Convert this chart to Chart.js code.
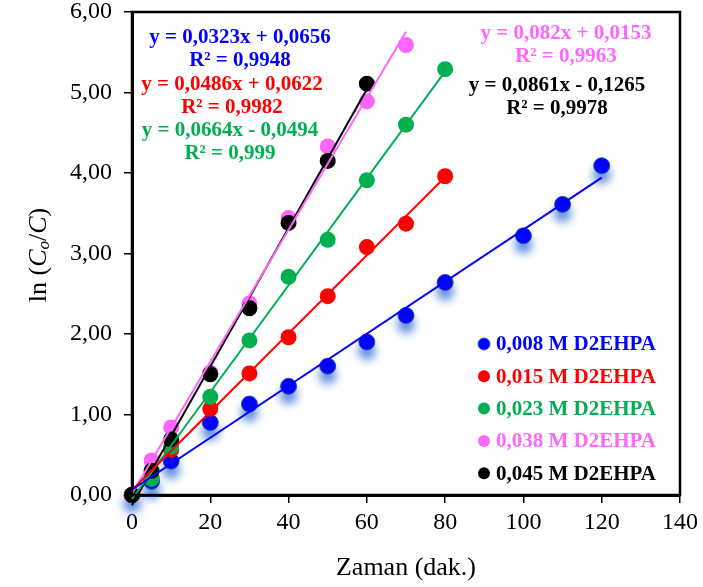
<!DOCTYPE html>
<html>
<head>
<meta charset="utf-8">
<script src="https://cdn.jsdelivr.net/npm/chart.js@4"></script>
<style>
  html, body { margin: 0; padding: 0; background: #fff; }
  #wrap { width: 703px; height: 587px; }
</style>
</head>
<body>
<div id="wrap"><canvas id="kineticChart"></canvas></div>
<script>
// Series labels and colours
const seriesNames = ["0,008 M D2EHPA", "0,015 M D2EHPA", "0,023 M D2EHPA", "0,038 M D2EHPA", "0,045 M D2EHPA"];
const seriesColors = ["#0000FF", "#FF0000", "#00B050", "#FF66FF", "#000000"];

// Time (dak.) for each series
const time008 = [0, 5, 10, 20, 30, 40, 50, 60, 70, 80, 100, 110, 120];
const time015 = [0, 5, 10, 20, 30, 40, 50, 60, 70, 80];
const time023 = [0, 5, 10, 20, 30, 40, 50, 60, 70, 80];
const time038 = [0, 5, 10, 20, 30, 40, 50, 60, 70];
const time045 = [0, 5, 10, 20, 30, 40, 50, 60];

// ln(Co/C) values
const ln008 = [0, 0.17, 0.42, 0.90, 1.13, 1.35, 1.60, 1.90, 2.23, 2.64, 3.22, 3.61, 4.09];
const ln015 = [0, 0.22, 0.56, 1.07, 1.51, 1.96, 2.47, 3.08, 3.37, 3.96];
const ln023 = [0, 0.20, 0.60, 1.22, 1.92, 2.71, 3.17, 3.91, 4.60, 5.29];
const ln038 = [0, 0.43, 0.84, 1.52, 2.38, 3.44, 4.33, 4.89, 5.59];
const ln045 = [0, 0.30, 0.69, 1.50, 2.32, 3.38, 4.15, 5.11];

// Linear trendlines as shown on the chart
const slopes = [0.0323, 0.0486, 0.0664, 0.082, 0.0861];
const intercepts = [0.0656, 0.0622, -0.0494, 0.0153, -0.1265];
const equations = ["y = 0,0323x + 0,0656", "y = 0,0486x + 0,0622", "y = 0,0664x - 0,0494", "y = 0,082x + 0,0153", "y = 0,0861x - 0,1265"];
const rSquared = ["R² = 0,9948", "R² = 0,9982", "R² = 0,999", "R² = 0,9963", "R² = 0,9978"];

// Axis ticks
const xTicks = [0, 20, 40, 60, 80, 100, 120, 140];
const yTicks = [0, 1, 2, 3, 4, 5, 6];

const times = [time008, time015, time023, time038, time045];
const values = [ln008, ln015, ln023, ln038, ln045];

const serif = "'Liberation Serif', 'Times New Roman', serif";

const datasets = [];
// draw order: black on top, then pink, green, red, blue
const pointOrder = [5, 4, 3, 2, 1];
times.forEach((t, i) => {
  datasets.push({
    label: seriesNames[i],
    data: t.map((x, k) => ({ x: x, y: values[i][k] })),
    showLine: false,
    pointRadius: 8,
    pointHoverRadius: 8,
    pointBackgroundColor: seriesColors[i],
    pointBorderColor: i === 0 ? "#2a4fa8" : seriesColors[i],
    pointBorderWidth: i === 0 ? 1 : 0,
    clip: false,
    order: pointOrder[i]
  });
});
times.forEach((t, i) => {
  const xEnd = t[t.length - 1];
  datasets.push({
    label: "trend" + i,
    data: [{ x: 0, y: intercepts[i] }, { x: xEnd, y: slopes[i] * xEnd + intercepts[i] }],
    showLine: true,
    borderColor: seriesColors[i],
    borderWidth: 2,
    pointRadius: 0,
    fill: false,
    clip: false,
    order: 0
  });
});

// shadow under the blue markers
const shadowPlugin = {
  id: "shadow",
  beforeDatasetDraw(chart, args) {
    if (args.index === 0) {
      const ctx = chart.ctx;
      ctx.save();
      ctx.shadowColor = "rgba(40, 100, 210, 0.75)";
      ctx.shadowBlur = 9;
      ctx.shadowOffsetX = 0;
      ctx.shadowOffsetY = 9;
    }
  },
  afterDatasetDraw(chart, args) {
    if (args.index === 0) chart.ctx.restore();
  }
};

// frame, axis titles, equations and legend
const decorPlugin = {
  id: "decor",
  afterDraw(chart) {
    const ctx = chart.ctx;
    const a = chart.chartArea;
    ctx.save();
    ctx.strokeStyle = "#000";
    ctx.lineWidth = 2.5;
    ctx.strokeRect(a.left, a.top, a.right - a.left, a.bottom - a.top);

    // x title
    ctx.fillStyle = "#000";
    ctx.font = "26px " + serif;
    ctx.textAlign = "center";
    ctx.textBaseline = "middle";
    ctx.fillText("Zaman (dak.)", (a.left + a.right) / 2, 568);

    // y title: ln (C_o/C)
    ctx.save();
    ctx.translate(39, 255);
    ctx.rotate(-Math.PI / 2);
    const parts = [
      { t: "ln (", f: "26px " + serif, dy: 0 },
      { t: "C", f: "italic 26px " + serif, dy: 0 },
      { t: "o", f: "italic 17px " + serif, dy: 6 },
      { t: "/", f: "26px " + serif, dy: 0 },
      { t: "C", f: "italic 26px " + serif, dy: 0 },
      { t: ")", f: "26px " + serif, dy: 0 }
    ];
    let total = 0;
    parts.forEach(p => { ctx.font = p.f; total += ctx.measureText(p.t).width; });
    let px = -total / 2;
    ctx.textAlign = "left";
    parts.forEach(p => {
      ctx.font = p.f;
      ctx.fillText(p.t, px, p.dy);
      px += ctx.measureText(p.t).width;
    });
    ctx.restore();

    // trendline equations
    const eqPos = [[240, 38], [232, 85], [230, 131], [566, 34], [557, 86]];
    ctx.font = "bold 21px " + serif;
    ctx.textAlign = "center";
    ctx.textBaseline = "middle";
    eqPos.forEach((p, i) => {
      ctx.fillStyle = seriesColors[i];
      ctx.fillText(equations[i], p[0], p[1]);
      ctx.fillText(rSquared[i], p[0], p[1] + 23);
    });

    // legend
    ctx.textAlign = "left";
    seriesNames.forEach((name, i) => {
      const y = 344 + i * 32.3;
      ctx.beginPath();
      ctx.arc(484, y, 6, 0, Math.PI * 2);
      ctx.fillStyle = seriesColors[i];
      ctx.fill();
      if (i === 0) { ctx.strokeStyle = "#3a5fa8"; ctx.lineWidth = 1; ctx.stroke(); }
      ctx.fillStyle = seriesColors[i];
      ctx.fillText(name, 496, y + 1);
    });
    ctx.restore();
  }
};

new Chart(document.getElementById("kineticChart"), {
  type: "scatter",
  data: { datasets: datasets },
  options: {
    responsive: true,
    maintainAspectRatio: false,
    animation: false,
    layout: { padding: { left: 0, right: 23, top: 12, bottom: 0 } },
    plugins: {
      legend: { display: false },
      tooltip: { enabled: false }
    },
    scales: {
      x: {
        type: "linear",
        min: 0,
        max: 140,
        afterBuildTicks(scale) { scale.ticks = xTicks.map(v => ({ value: v })); },
        afterFit(scale) {
          scale.height = 92;
          scale.paddingLeft = 0;
          scale.paddingRight = 0;
        },
        grid: { drawOnChartArea: false, drawTicks: true, tickLength: 8, color: "#000", lineWidth: 1.5 },
        border: { display: true, color: "#000", width: 3 },
        ticks: { color: "#000", font: { family: serif, size: 24 }, padding: 5 }
      },
      y: {
        type: "linear",
        min: 0,
        max: 6,
        afterBuildTicks(scale) { scale.ticks = yTicks.map(v => ({ value: v })); },
        afterFit(scale) {
          scale.width = 132;
          scale.paddingTop = 0;
          scale.paddingBottom = 0;
        },
        grid: { drawOnChartArea: false, drawTicks: true, tickLength: 8, color: "#000", lineWidth: 1.5 },
        border: { display: true, color: "#000", width: 3 },
        ticks: {
          color: "#000",
          font: { family: serif, size: 24 },
          padding: 12,
          callback: v => v.toFixed(2).replace(".", ",")
        }
      }
    }
  },
  plugins: [shadowPlugin, decorPlugin]
});
</script>
</body>
</html>
